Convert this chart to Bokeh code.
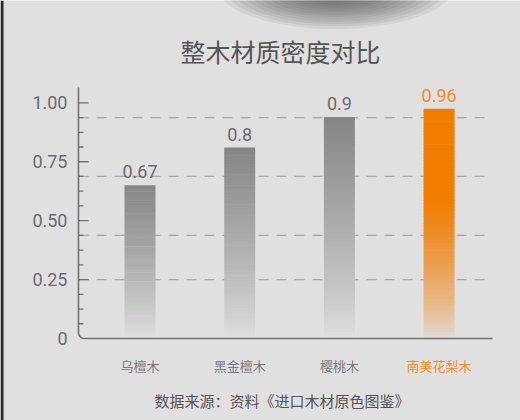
import numpy as np
from bokeh.plotting import figure
from bokeh.models import Range1d, ColumnDataSource, LabelSet, Label
from bokeh.core.properties import value
from bokeh.embed import file_html
from bokeh.resources import INLINE

# ---- data ----
categories = ["乌檀木", "黑金檀木", "樱桃木", "南美花梨木"]
density_labels = ["0.67", "0.8", "0.9", "0.96"]
bar_heights = [0.65, 0.81, 0.94, 0.975]
highlight = [False, False, False, True]
y_ticks = [0, 0.25, 0.5, 0.75, 1.0]
y_tick_labels = ["0", "0.25", "0.50", "0.75", "1.00"]
minor_ticks = [k * 0.0625 for k in range(1, 17) if k % 4 != 0]
grid_levels = [0.25, 0.4375, 0.6875, 0.9375]
title_text = "整木材质密度对比"
source_text = "数据来源：资料《进口木材原色图鉴》"

# ---- styles ----
BG_HEX = "#e1e0e1"
BG = (225, 224, 225)
GRAY = (133, 133, 133)
ORANGE = (241, 124, 0)
ORANGE_TXT = "#f08c2c"
TXT_GRAY = "#6b6b6b"
AXIS_COL = "#707070"
CJK = "Noto Sans CJK SC"
NUM = "Roboto"

PX_X = 1 / 99.7     # data units per pixel, x
PX_Y = 1 / 235.7    # data units per pixel, y
AX, AX_END = -0.617, 3.536          # drawn axis extent
XL, XR = AX - 78 * PX_X, AX_END + 28 * PX_X
Y0, Y1 = -82 * PX_Y, 1.065 + 87 * PX_Y
AXIS_TOP = 1.065

p = figure(width=520, height=420, output_backend="svg", toolbar_location=None,
           x_range=Range1d(XL, XR), y_range=Range1d(Y0, Y1),
           min_border=0, x_axis_type=None, y_axis_type=None)
p.background_fill_color = BG_HEX
p.border_fill_color = BG_HEX
p.outline_line_color = None
p.grid.visible = False

# dark strip at the left edge of the photo
p.quad(left=[XL], right=[XL + 3 * PX_X], bottom=[Y0], top=[Y1], fill_color="#2b2b2b", line_color=None)

# soft dark photo blob at the top (background decoration), built from many faint layers
n_layers = 14
blob_w = np.linspace(240, 50, n_layers)
blob_h = np.linspace(88, 26, n_layers)
p.ellipse(x=[1.96] * n_layers, y=[1.50] * n_layers, width=blob_w, height=blob_h,
          width_units="screen", height_units="screen",
          fill_color="#3a3a3a", fill_alpha=0.08, line_color=None)

# dashed grid lines
p.segment(x0=[AX] * len(grid_levels), x1=[AX_END - 2 * PX_X] * len(grid_levels),
          y0=grid_levels, y1=grid_levels, line_color="#a8a8a8", line_dash="10 8", line_width=1.2)

def blend(c, a):
    a = max(0.0, min(1.0, a))
    return "#%02x%02x%02x" % tuple(int(round(b * (1 - a) + cc * a)) for b, cc in zip(BG, c))

N = 70
rows = dict(left=[], right=[], bottom=[], top=[], color=[])
half = 0.155
for i, (h, hl) in enumerate(zip(bar_heights, highlight)):
    edges = np.linspace(0, h, N + 1)
    for k in range(N):
        t = (edges[k] + edges[k + 1]) / 2 / h
        if hl:
            a = min(1.0, t / 0.6) ** 0.7
            col = ORANGE
        else:
            a = t ** 0.85
            col = GRAY
        rows["left"].append(i - half)
        rows["right"].append(i + half)
        rows["bottom"].append(edges[k])
        rows["top"].append(edges[k + 1] + (0 if k == N - 1 else h * 0.003))
        rows["color"].append(blend(col, a))
p.quad(source=ColumnDataSource(rows), left="left", right="right", bottom="bottom", top="top",
       fill_color="color", line_color=None)

# axis: y line, rounded corner, baseline
rx, ry = 6 * PX_X, 6 * PX_Y
ang = np.linspace(np.pi, 1.5 * np.pi, 12)
cx = [AX] + list(AX + rx + rx * np.cos(ang)) + [AX_END]
cy = [AXIS_TOP] + list(ry + ry * np.sin(ang)) + [0]
p.line(cx, cy, line_color=AXIS_COL, line_width=1.6)

# ticks (pointing into the plot)
maj = [t for t in y_ticks if t > 0]
p.segment(x0=[AX] * len(maj), x1=[AX + 10 * PX_X] * len(maj), y0=maj, y1=maj,
          line_color=AXIS_COL, line_width=1.3)
p.segment(x0=[AX] * len(minor_ticks), x1=[AX + 5 * PX_X] * len(minor_ticks),
          y0=minor_ticks, y1=minor_ticks, line_color=AXIS_COL, line_width=1.3)

tick_src = ColumnDataSource(dict(x=[AX] * len(y_ticks), y=y_ticks, t=y_tick_labels))
p.add_layout(LabelSet(x="x", y="y", text="t", source=tick_src, x_offset=-11,
                      text_align="right", text_baseline="middle", text_color=TXT_GRAY,
                      text_font=value(NUM), text_font_size=value("18px")))

xs = list(range(len(categories)))
lab_src = ColumnDataSource(dict(
    x=xs, h=bar_heights, lab=density_labels, zero=[0] * len(xs), cat=categories,
    col=[ORANGE_TXT if hl else TXT_GRAY for hl in highlight],
    ccol=[ORANGE_TXT if hl else "#7a7a7a" for hl in highlight]))

p.add_layout(LabelSet(x="x", y="h", text="lab", source=lab_src, text_color="col",
                      y_offset=7, text_align="center", text_baseline="bottom",
                      text_font=value(NUM), text_font_size=value("18px")))
p.add_layout(LabelSet(x="x", y="zero", text="cat", source=lab_src, text_color="ccol",
                      y_offset=-27, text_align="center", text_baseline="middle",
                      text_font=value(CJK), text_font_size=value("13px")))
p.add_layout(Label(x=1.424, y=0, y_offset=-62, text=source_text, text_align="center",
                   text_baseline="middle", text_font=CJK, text_font_size="15px",
                   text_color="#555555"))
p.add_layout(Label(x=1.409, y=1.218, text=title_text, text_align="center",
                   text_baseline="middle", text_font=CJK, text_font_size="25px",
                   text_color="#555555"))

open("out.html", "w").write(file_html(p, INLINE))
